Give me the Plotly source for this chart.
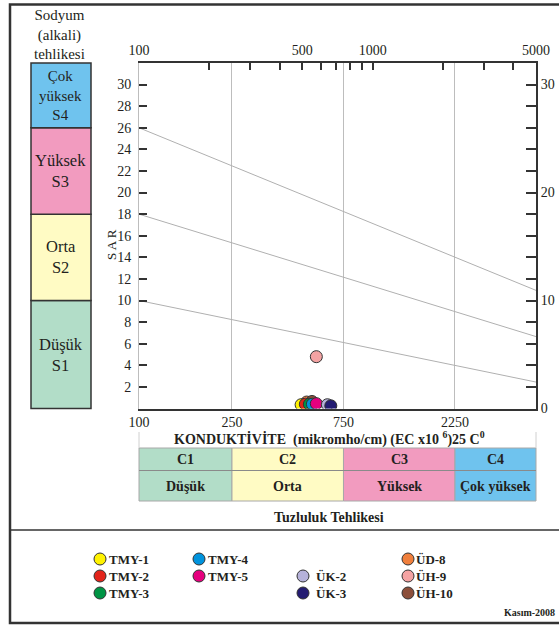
import numpy as np
import plotly.graph_objects as go

W, H = 559, 626

# ---- sample data: EC (micromho/cm at 25 C) and SAR ----
samples = ["TMY-1", "TMY-2", "TMY-3", "TMY-4", "TMY-5",
           "ÜK-2", "ÜK-3", "ÜD-8", "ÜH-9", "ÜH-10"]
ec_values = [494, 515, 536, 552, 574, 640, 662, 522, 574, 550]
sar_values = [0.35, 0.4, 0.4, 0.4, 0.45, 0.35, 0.25, 0.6, 4.8, 0.65]
sample_colors = ["#FFF200", "#E2231A", "#009444", "#0093DD", "#E6007E",
                 "#B6B2DA", "#241C72", "#F07F3C", "#F4A3A3", "#8C4F3A"]
# drawing order (samples drawn later sit on top)
draw_order = ["ÜD-8", "ÜH-10", "TMY-1", "TMY-2", "TMY-3", "TMY-4", "TMY-5",
              "ÜK-2", "ÜK-3", "ÜH-9"]

# ---- class boundary lines (EC at both ends, SAR at both ends) ----
boundary_ec = [100, 5000]
boundary_s1_s2 = [10, 2.45]
boundary_s2_s3 = [18, 6.66]
boundary_s3_s4 = [26, 10.94]

# ---- hazard classes ----
sodium_limits = [0, 10, 18, 26, 32]
sodium_labels = ["Düşük<br>S1", "Orta<br>S2", "Yüksek<br>S3", "Çok<br>yüksek<br>S4"]
salinity_limits = [100, 250, 750, 2250, 5000]
salinity_codes = ["C1", "C2", "C3", "C4"]
salinity_names = ["Düşük", "Orta", "Yüksek", "Çok yüksek"]
class_colors = ["#B2DDC8", "#FFFBC4", "#F29BBF", "#6FC3EE"]

# ---- axis ticks ----
top_ticks = [100, 200, 300, 400, 500, 600, 700, 800, 900, 1000, 2000, 3000, 4000, 5000]
top_labels = ["100", "", "", "", "500", "", "", "", "", "1000", "", "", "", "5000"]
bottom_ticks = [100, 250, 750, 2250]
left_ticks = list(range(2, 31, 2))
right_ticks = list(range(0, 31, 2))
right_labels = [str(v) if v % 10 == 0 else "" for v in right_ticks]

SERIF = "Times New Roman"
INK = "#231F20"
FRAME = "#333333"
LIGHT = "#BDBDBD"


def px(x):
    return x / W


def py(y):
    return 1 - y / H


PLOT_L, PLOT_R, PLOT_T, PLOT_B = 139, 536, 63, 408.5
Y_MAX = 32
XR = [np.log10(100), np.log10(5000)]


def ec_to_px(v):
    return PLOT_L + (PLOT_R - PLOT_L) * (np.log10(v) - XR[0]) / (XR[1] - XR[0])


def sar_to_px(v):
    return PLOT_B - (PLOT_B - PLOT_T) * v / Y_MAX


fig = go.Figure()

# boundary lines
for sar_line in (boundary_s1_s2, boundary_s2_s3, boundary_s3_s4):
    fig.add_trace(go.Scatter(x=boundary_ec, y=sar_line, mode="lines",
                             line=dict(color="#B0B0B0", width=1),
                             hoverinfo="skip", showlegend=False))

# sample points
for name in draw_order:
    i = samples.index(name)
    fig.add_trace(go.Scatter(
        x=[ec_values[i]], y=[sar_values[i]], mode="markers", name=name,
        marker=dict(size=12, color=sample_colors[i], line=dict(color="#333333", width=1)),
        showlegend=False))

# invisible trace to activate the secondary axes
fig.add_trace(go.Scatter(x=[100], y=[0], xaxis="x2", yaxis="y2", mode="markers",
                         marker=dict(opacity=0), hoverinfo="skip", showlegend=False))

xdom = [px(PLOT_L), px(PLOT_R)]
ydom = [py(PLOT_B), py(PLOT_T)]
tickfont = dict(family=SERIF, size=14, color=INK)

fig.update_layout(
    width=W, height=H,
    font=dict(family=SERIF, color=INK),
    margin=dict(l=0, r=0, t=0, b=0, autoexpand=False),
    paper_bgcolor="white", plot_bgcolor="white",
    xaxis=dict(type="log", range=XR, domain=xdom, anchor="y",
               tickvals=bottom_ticks, ticktext=[str(v) for v in bottom_ticks],
               ticks="", showgrid=True, gridcolor=LIGHT, gridwidth=1,
               showline=True, linecolor=FRAME, linewidth=2,
               tickfont=tickfont, zeroline=False),
    xaxis2=dict(type="log", range=XR, domain=xdom, anchor="y", overlaying="x",
                side="top", tickvals=top_ticks, ticktext=top_labels,
                ticks="inside", ticklen=7, tickwidth=1.5, tickcolor=FRAME,
                showgrid=False, showline=True, linecolor=FRAME, linewidth=2,
                tickfont=tickfont),
    yaxis=dict(range=[0, Y_MAX], domain=ydom, anchor="x",
               tickvals=left_ticks, ticktext=[str(v) for v in left_ticks],
               ticks="inside", ticklen=8, tickwidth=1.5, tickcolor=FRAME,
               showgrid=False, zeroline=False, showline=True, linecolor=LIGHT,
               linewidth=1, tickfont=tickfont, ticklabelstandoff=4),
    yaxis2=dict(range=[0, Y_MAX], domain=ydom, anchor="x", overlaying="y",
                side="right", tickvals=right_ticks, ticktext=right_labels,
                ticks="inside", ticklen=10, tickwidth=1.5, tickcolor=FRAME,
                showgrid=False, zeroline=False, showline=True, linecolor=FRAME,
                linewidth=2, tickfont=tickfont),
)

shapes = []
ann = []


def text(x, y, s, size=14, bold=False, anchor="center", angle=0):
    ann.append(dict(x=px(x), y=py(y), xref="paper", yref="paper", showarrow=False,
                    text=f"<b>{s}</b>" if bold else s, xanchor=anchor, yanchor="middle",
                    textangle=angle, font=dict(family=SERIF, size=size, color=INK)))


# outer frame and separator
shapes.append(dict(type="rect", xref="paper", yref="paper", x0=px(10), x1=px(566),
                   y0=py(623), y1=py(4.5), line=dict(color=FRAME, width=2.5)))
shapes.append(dict(type="line", xref="paper", yref="paper", x0=px(10), x1=px(566),
                   y0=py(530), y1=py(530), line=dict(color=FRAME, width=1.5)))

# sodium hazard boxes (the three-line top box uses a slightly smaller font)
box_font = [16.5, 16.5, 16.5, 15]
for k in range(4):
    y_top = sar_to_px(sodium_limits[k + 1])
    y_bot = sar_to_px(sodium_limits[k])
    shapes.append(dict(type="rect", xref="paper", yref="paper", x0=px(31), x1=px(91),
                       y0=py(y_bot), y1=py(y_top),
                       fillcolor=class_colors[k], line=dict(color=FRAME, width=1.5),
                       layer="below"))
    text(61, (y_top + y_bot) / 2, sodium_labels[k], size=box_font[k])

# sodium hazard heading
text(59, 34.5, "Sodyum<br>(alkali)<br>tehlikesi", size=15)

text(112, 245, "S A R", size=13, angle=-90)

# salinity hazard table
C_TOP, C_MID, C_BOT = 448, 470.5, 501
for k in range(4):
    x0 = ec_to_px(salinity_limits[k])
    x1 = ec_to_px(salinity_limits[k + 1])
    shapes.append(dict(type="rect", xref="paper", yref="paper", x0=px(x0), x1=px(x1),
                       y0=py(C_BOT), y1=py(C_TOP), fillcolor=class_colors[k],
                       line=dict(color="#A8A8A8", width=1), layer="below"))
    xc = (x0 + x1) / 2
    text(xc, 459.5, salinity_codes[k], size=14, bold=True)
    text(xc, 486, salinity_names[k], size=14, bold=True)
shapes.append(dict(type="line", xref="paper", yref="paper", x0=px(PLOT_L), x1=px(PLOT_R),
                   y0=py(C_MID), y1=py(C_MID), line=dict(color="#8A8A8A", width=1)))
for xv in (PLOT_L, PLOT_R):
    shapes.append(dict(type="line", xref="paper", yref="paper", x0=px(xv), x1=px(xv),
                       y0=py(C_TOP), y1=py(432), line=dict(color="#D0D0D0", width=1)))

text(329, 439, "KONDUKTİVİTE  (mikromho/cm) (EC x10 <sup>6</sup>)25 C<sup>0</sup>",
     size=14, bold=True)
text(329, 517, "Tuzluluk Tehlikesi", size=14, bold=True)

# legend: slot (column, row) for each sample
legend_slots = {"TMY-1": (0, 0), "TMY-2": (0, 1), "TMY-3": (0, 2),
                "TMY-4": (1, 0), "TMY-5": (1, 1),
                "ÜK-2": (2, 1), "ÜK-3": (2, 2),
                "ÜD-8": (3, 0), "ÜH-9": (3, 1), "ÜH-10": (3, 2)}
col_marker_x = [100, 199, 303, 408]
col_text_x = [106.5, 205.5, 314, 414]
row_y = [559, 576, 593]
R = 6
for name, (c, r) in legend_slots.items():
    i = samples.index(name)
    cx, cy = col_marker_x[c], row_y[r]
    shapes.append(dict(type="circle", xref="paper", yref="paper",
                       x0=px(cx - R), x1=px(cx + R), y0=py(cy + R), y1=py(cy - R),
                       fillcolor=sample_colors[i], line=dict(color="#333333", width=1)))
    text(col_text_x[c], cy, name, size=13, bold=True, anchor="left")

ann.append(dict(x=px(557), y=py(612), xref="paper", yref="paper", showarrow=False,
                text="<b>Kasım-2008</b>", xanchor="right", yanchor="middle",
                font=dict(family=SERIF, size=10, color=INK)))

fig.update_layout(shapes=shapes, annotations=ann)
fig.write_html("out.html")
